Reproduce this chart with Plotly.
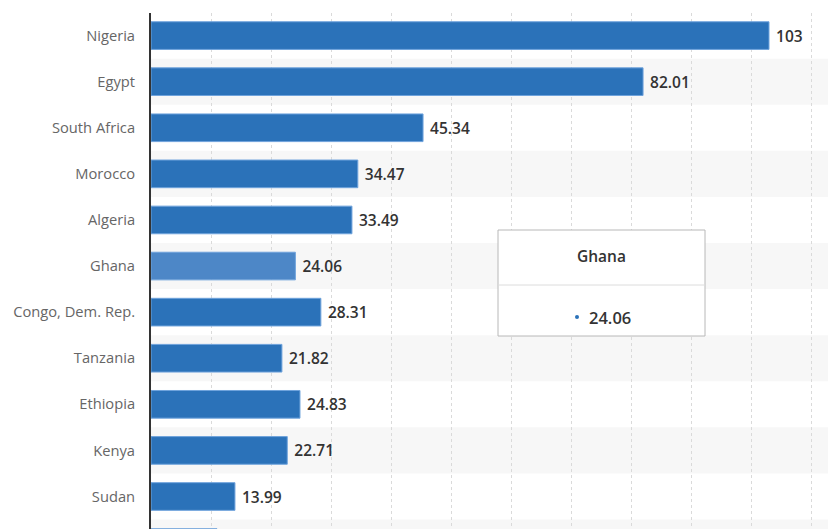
import plotly.graph_objects as go

countries = ["Nigeria", "Egypt", "South Africa", "Morocco", "Algeria", "Ghana",
             "Congo, Dem. Rep.", "Tanzania", "Ethiopia", "Kenya", "Sudan", "Angola"]
values = [103, 82.01, 45.34, 34.47, 33.49, 24.06, 28.31, 21.82, 24.83, 22.71, 13.99, 11.0]
highlight = "Ghana"

base_color = "#2b72b9"
hi_color = "#4d87c7"
colors = [hi_color if c == highlight else base_color for c in countries]

W, H = 828, 529
L, T = 151, 13
plot_w, plot_h = W - L, H - T

def px(x):
    return (x - L) / plot_w

def py(y):
    return 1 - (y - T) / plot_h

fig = go.Figure()
fig.add_trace(go.Bar(
    y=countries, x=values, orientation="h",
    marker=dict(color=colors, line=dict(color="#6fa3dc", width=1)),
    width=0.6,
    texttemplate=" %{x}", textposition="outside",
    textfont=dict(family="Open Sans", size=15.5, color="#333333", weight=600),
    cliponaxis=False, hoverinfo="skip",
))

shapes = []
for i in range(1, len(countries), 2):
    shapes.append(dict(type="rect", xref="paper", yref="y", x0=0, x1=1,
                       y0=i - 0.5, y1=i + 0.5, fillcolor="#f7f7f7",
                       line=dict(width=0), layer="below"))

# tooltip box
shapes.append(dict(type="rect", xref="paper", yref="paper",
                   x0=px(498), x1=px(705), y0=py(336), y1=py(230),
                   fillcolor="white", line=dict(color="#b8b8b8", width=1), layer="above"))
shapes.append(dict(type="line", xref="paper", yref="paper",
                   x0=px(498), x1=px(705), y0=py(285), y1=py(285),
                   line=dict(color="#dcdcdc", width=1), layer="above"))
shapes.append(dict(type="circle", xref="paper", yref="paper",
                   x0=px(575), x1=px(579), y0=py(319), y1=py(315),
                   fillcolor=base_color, line=dict(width=0), layer="above"))

annotations = [
    dict(xref="paper", yref="paper", x=px(601), y=py(256), text=highlight,
         showarrow=False, font=dict(family="Open Sans", size=15.5, color="#333333", weight=600),
         xanchor="center", yanchor="middle"),
    dict(xref="paper", yref="paper", x=px(587), y=py(317), text=f"{values[countries.index(highlight)]:.2f}",
         showarrow=False, font=dict(family="Open Sans", size=16.5, color="#333333", weight=600),
         xanchor="left", yanchor="middle"),
]

fig.update_layout(
    width=W, height=H,
    margin=dict(l=L, r=0, t=T, b=0),
    plot_bgcolor="white", paper_bgcolor="white",
    showlegend=False, bargap=0.4,
    shapes=shapes, annotations=annotations,
    xaxis=dict(range=[0, plot_w / 6.0], dtick=10, tick0=0, showgrid=True,
               gridcolor="#dadada", griddash="dot", gridwidth=1,
               showticklabels=False, zeroline=False, showline=False, fixedrange=True),
    yaxis=dict(range=[10.705, -0.49], showline=True, linecolor="#333333", linewidth=2,
               ticks="", ticklabelstandoff=11, showgrid=False,
               tickfont=dict(family="Open Sans", size=14.7, color="#666666")),
)

fig.write_html("out.html", config={"displayModeBar": False},
               post_script="document.body.style.margin='0';document.body.style.padding='0';")
